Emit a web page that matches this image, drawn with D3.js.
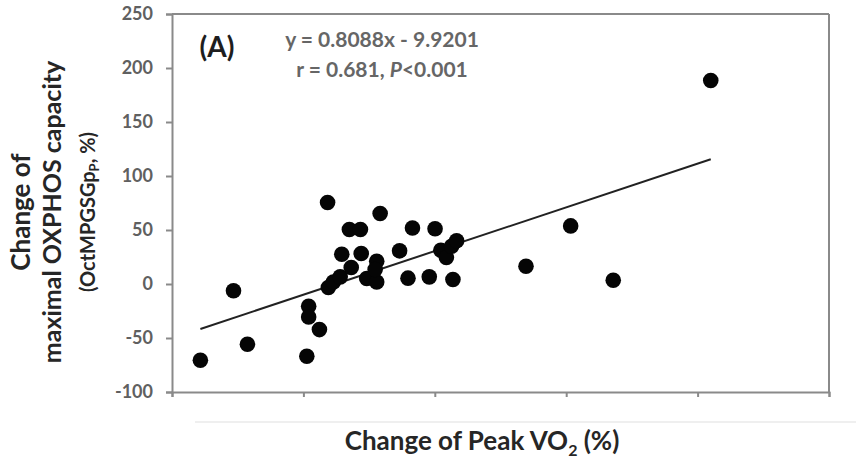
<!DOCTYPE html>
<html>
<head>
<meta charset="utf-8">
<script src="https://cdn.jsdelivr.net/npm/d3@7"></script>
<style>
  body { margin: 0; background: #fff; }
  svg { display: block; font-family: Lato, "Open Sans", sans-serif; }
</style>
</head>
<body>
<svg id="chart" width="856" height="458"></svg>
<script>
// change of peak VO2 (%) vs change of maximal OXPHOS capacity (%)
const peakVO2 = [-39.2, -26.6, -21.3, 1.3, 2.0, 2.0, 6.1, 9.5, 11.4, 14.0, 9.2, 14.6, 17.5, 21.7, 22.0, 18.2, 24.1, 27.9, 27.9, 27.3, 29.2, 36.6, 41.5, 50.1, 39.8, 47.9, 56.9, 52.3, 54.4, 56.4, 58.3, 84.7, 101.7, 117.9, 155.0];
const oxphos = [-70.6, -6.2, -55.8, -66.9, -20.6, -30.5, -42.2, -3.2, 1.9, 6.6, 75.4, 27.6, 50.5, 50.5, 28.3, 15.3, 5.1, 1.9, 21.1, 13.4, 65.3, 30.7, 51.8, 51.1, 5.4, 6.6, 4.2, 31.3, 24.6, 35.0, 40.0, 16.5, 53.8, 3.5, 188.4];
const xTicks = [-50, 0, 50, 100, 150, 200];
const yTicks = [-100, -50, 0, 50, 100, 150, 200, 250];
const slope = 0.8088, intercept = -9.9201;

const svg = d3.select('#chart');
const axisColor = '#8a8a8a';
const titleColor = '#262626';

const x = d3.scaleLinear().domain([-50, 200]).range([172, 829]);
const y = d3.scaleLinear().domain([-100, 250]).range([392, 14]);

// frame (top + right)
svg.append('line').attr('x1', x(-50)).attr('x2', x(200)).attr('y1', y(250)).attr('y2', y(250))
  .attr('stroke', axisColor).attr('stroke-width', 2);
svg.append('line').attr('x1', x(200)).attr('x2', x(200)).attr('y1', y(250)).attr('y2', y(-100))
  .attr('stroke', axisColor).attr('stroke-width', 2);

// y axis
const yAxis = svg.append('g').attr('transform', `translate(${x(-50)},0)`)
  .call(d3.axisLeft(y).tickValues(yTicks).tickSize(6).tickPadding(13).tickFormat(d => String(d)));
yAxis.select('.domain').attr('stroke', axisColor).attr('stroke-width', 2);
yAxis.selectAll('.tick line').attr('stroke', axisColor).attr('stroke-width', 2);
yAxis.selectAll('.tick text').attr('fill', '#606060').attr('font-size', 18).attr('font-weight', 'bold')
  .attr('font-family', 'Lato, sans-serif');

// x axis (no labels)
const xAxis = svg.append('g').attr('transform', `translate(0,${y(-100)})`)
  .call(d3.axisBottom(x).tickValues(xTicks).tickSize(5).tickFormat(''));
xAxis.select('.domain').attr('stroke', axisColor).attr('stroke-width', 2);
xAxis.selectAll('.tick line').attr('stroke', axisColor).attr('stroke-width', 2);

// faint rule under axis
svg.append('line').attr('x1', 195).attr('x2', 856).attr('y1', 422).attr('y2', 422)
  .attr('stroke', '#efefef').attr('stroke-width', 2);

// regression line over data range
const xr = d3.extent(peakVO2);
svg.append('line')
  .attr('x1', x(xr[0])).attr('y1', y(slope * xr[0] + intercept))
  .attr('x2', x(xr[1])).attr('y2', y(slope * xr[1] + intercept))
  .attr('stroke', '#222').attr('stroke-width', 2);

// points
svg.append('g').selectAll('circle').data(peakVO2).join('circle')
  .attr('cx', d => x(d)).attr('cy', (d, i) => y(oxphos[i])).attr('r', 7.8).attr('fill', '#050505');

// annotations
svg.append('text').attr('x', 217).attr('y', 57).attr('text-anchor', 'middle')
  .attr('font-size', 28).attr('font-weight', 'bold').attr('fill', '#1e1e1e').text('(A)');
svg.append('text').attr('x', 382).attr('y', 47).attr('text-anchor', 'middle')
  .attr('font-size', 21).attr('font-weight', 'bold').attr('fill', '#666').text('y = 0.8088x - 9.9201');
const rt = svg.append('text').attr('x', 382).attr('y', 77).attr('text-anchor', 'middle')
  .attr('font-size', 21).attr('font-weight', 'bold').attr('fill', '#666');
rt.append('tspan').text('r = 0.681, ');
rt.append('tspan').attr('font-style', 'italic').text('P');
rt.append('tspan').text('<0.001');

// x title
const xt = svg.append('text').attr('x', 482).attr('y', 450).attr('text-anchor', 'middle')
  .attr('font-size', 26).attr('font-weight', 'bold').attr('fill', titleColor);
xt.append('tspan').text('Change of Peak VO');
xt.append('tspan').attr('font-size', 16).attr('dy', 6).text('2');
xt.append('tspan').attr('dy', -6).text(' (%)');

// y title
const yt = svg.append('g').attr('transform', 'translate(0,212) rotate(-90)');
yt.append('text').attr('x', 0).attr('y', 30).attr('text-anchor', 'middle')
  .attr('font-size', 26).attr('font-weight', 'bold').attr('fill', titleColor).text('Change of');
yt.append('text').attr('x', 0).attr('y', 61).attr('text-anchor', 'middle')
  .attr('font-size', 25).attr('font-weight', 'bold').attr('fill', titleColor).text('maximal OXPHOS capacity');
const y3 = yt.append('text').attr('x', 0).attr('y', 95).attr('text-anchor', 'middle')
  .attr('font-size', 20).attr('font-weight', 'bold').attr('fill', titleColor);
y3.append('tspan').text('(OctMPGSGp');
y3.append('tspan').attr('font-size', 13).attr('dy', 4).text('P');
y3.append('tspan').attr('dy', -4).text(', %)');
</script>
</body>
</html>
